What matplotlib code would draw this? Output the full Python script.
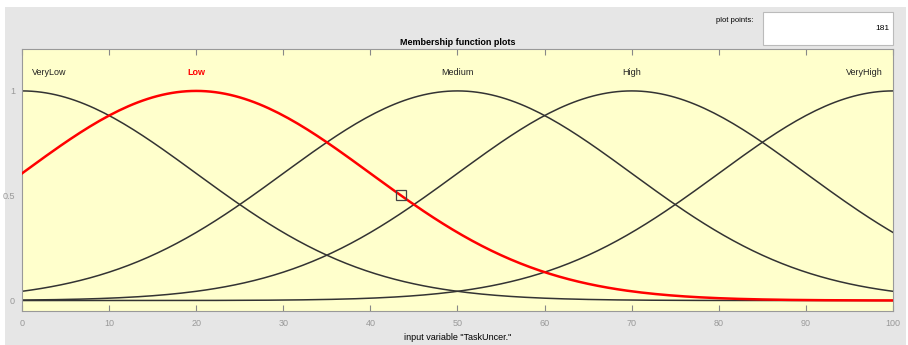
import matplotlib

matplotlib.use("Agg")
import matplotlib.pyplot as plt
import numpy as np
from matplotlib.patches import Rectangle

# membership functions (gaussmf)
mf_names = ["VeryLow", "Low", "Medium", "High", "VeryHigh"]
mf_centers = [0, 20, 50, 70, 100]
mf_sigmas = [20, 20, 20, 20, 20]
selected = "Low"
n_points = 181
cursor_x = [43.5]
cursor_y = [0.505]

W, H = 908, 345
plt.rcParams["font.family"] = ["Liberation Sans", "DejaVu Sans"]
fig = plt.figure(figsize=(W / 100, H / 100), dpi=100, facecolor="white")

# gray panel background
fig.patches.append(Rectangle((5 / W, 0), 901 / W, 338 / H, transform=fig.transFigure,
                             facecolor="#e6e6e6", edgecolor="none", zorder=-1))

ax = fig.add_axes([22 / W, 34 / H, 871 / W, 262 / H])
ax.set_facecolor("#ffffcc")

x = np.linspace(0, 100, n_points)
for name, c, s in zip(mf_names, mf_centers, mf_sigmas):
    y = np.exp(-((x - c) ** 2) / (2 * s ** 2))
    if name == selected:
        ax.plot(x, y, color="#ff0000", lw=1.8, zorder=3)
    else:
        ax.plot(x, y, color="#333333", lw=1.1, zorder=2)
    if c <= 0:
        ha, tx = "left", 1.2
    elif c >= 100:
        ha, tx = "right", 98.8
    else:
        ha, tx = "center", c
    ax.text(tx, 1.09, name, ha=ha, va="center", fontsize=6.5,
            color="#ff0000" if name == selected else "#222222",
            fontweight="bold" if name == selected else "normal")

ax.plot(cursor_x, cursor_y, marker="s", markersize=6.5, markerfacecolor="none",
        markeredgecolor="#444444", markeredgewidth=0.9, zorder=4)

ax.set_xlim(0, 100)
ax.set_ylim(-0.05, 1.2)
ax.set_xticks(np.arange(0, 101, 10))
ax.set_yticks([0, 0.5, 1])
ax.set_yticklabels(["0", "0.5", "1"])
ax.tick_params(axis="x", direction="in", top=True, length=4, width=0.8,
               color="#888888", labelsize=6.5, labelcolor="#999999", pad=6)
ax.tick_params(axis="y", direction="in", length=0, labelsize=6.5,
               labelcolor="#999999", pad=5)
for sp in ax.spines.values():
    sp.set_color("#999999")
    sp.set_linewidth(0.8)

ax.set_title("Membership function plots", fontsize=6.5, fontweight="bold", pad=3,
             family=["Liberation Sans Narrow", "Liberation Sans", "DejaVu Sans"])
ax.set_xlabel('input variable "TaskUncer."', fontsize=6.5, labelpad=3)

# plot points box
fig.patches.append(Rectangle((763 / W, 1 - 45 / H), 130 / W, 33 / H,
                             transform=fig.transFigure, facecolor="white",
                             edgecolor="#bbbbbb", lw=0.8))
fig.text(735 / W, 1 - 20 / H, "plot points:", fontsize=5.5, ha="center", va="center",
         family=["Liberation Sans Narrow", "Liberation Sans", "DejaVu Sans"])
fig.text(889 / W, 1 - 29 / H, str(n_points), fontsize=6, ha="right", va="center")

fig.savefig("out.png", dpi=100, facecolor=fig.get_facecolor())
